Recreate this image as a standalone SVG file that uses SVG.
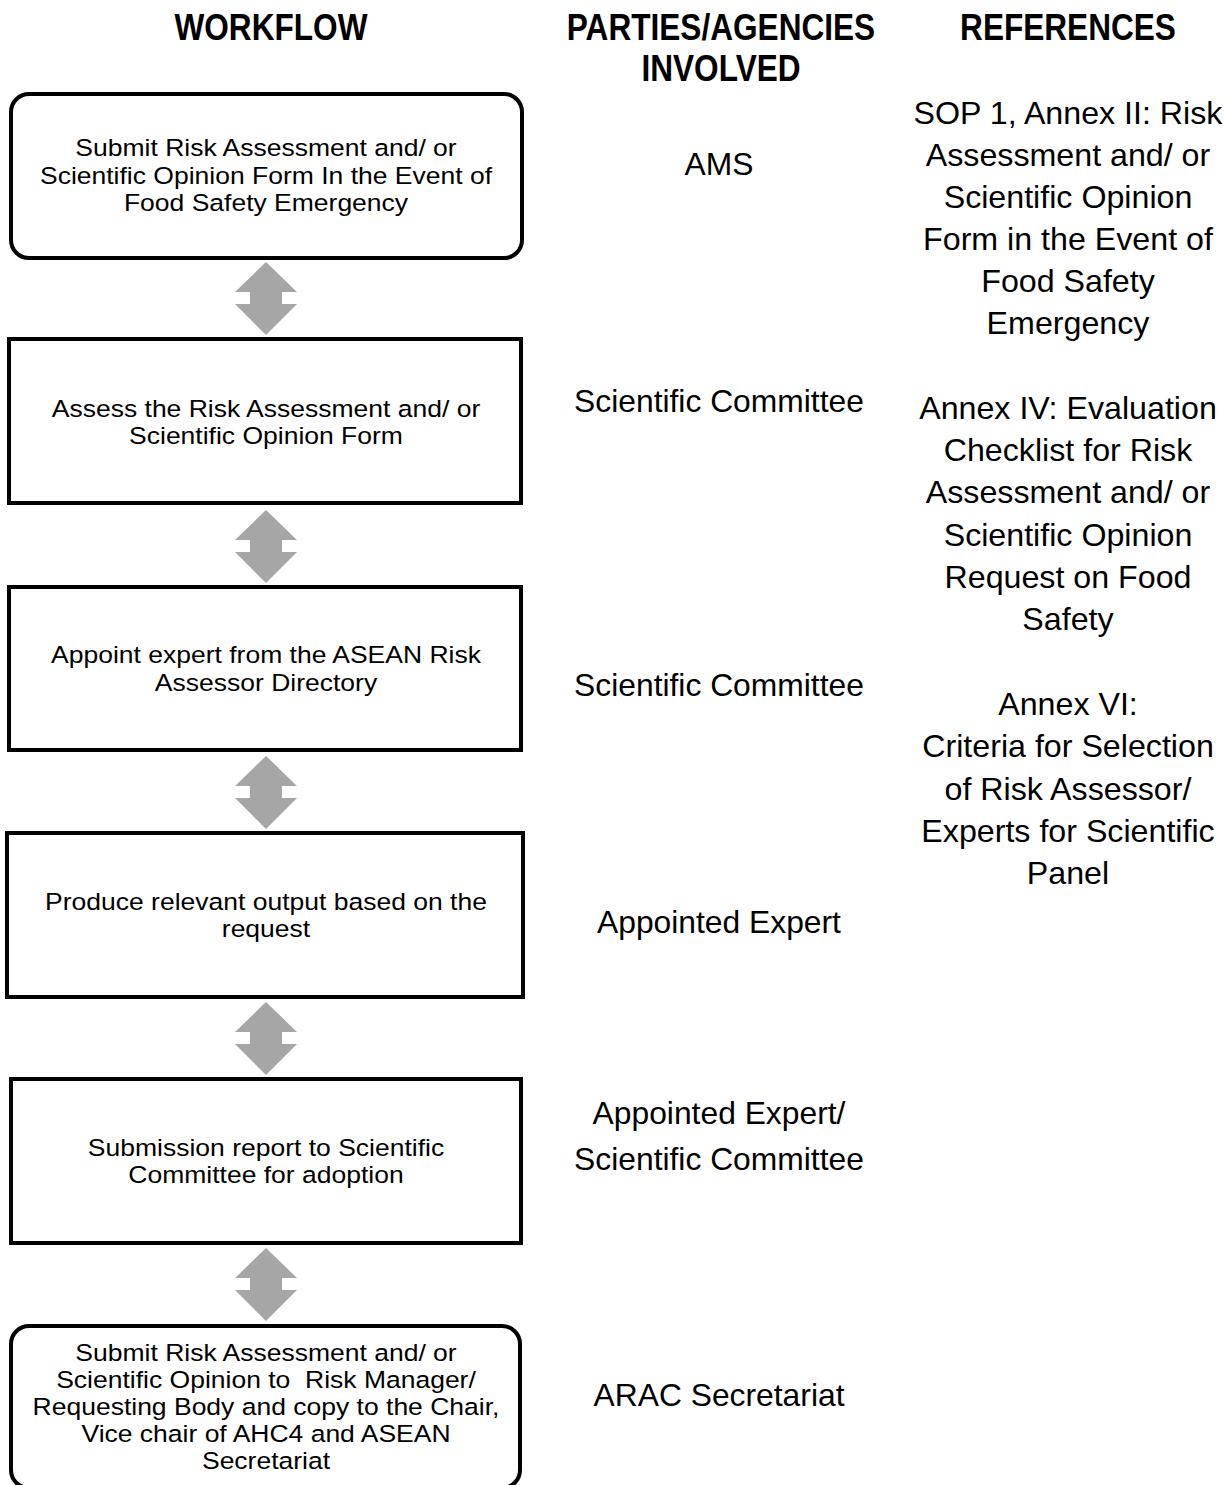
<svg xmlns="http://www.w3.org/2000/svg" width="1227" height="1485" viewBox="0 0 1227 1485">
<style>
.hdr{font-family:"Liberation Sans",Arial,sans-serif;font-weight:bold;font-size:37px;text-anchor:middle;fill:#000}
.box{fill:#fff;stroke:#000;stroke-width:4}
.bt{font-family:"Liberation Sans",Arial,sans-serif;font-size:23.5px;text-anchor:middle;fill:#000;white-space:pre}
.mt{font-family:"Liberation Sans",Arial,sans-serif;font-size:31.8px;text-anchor:middle;fill:#000}
.rt{font-family:"Liberation Sans",Arial,sans-serif;font-size:32.2px;text-anchor:middle;fill:#000}
.arr{fill:#a6a6a6}
</style>
<defs>
<path id="dbl" d="M0,0 L31,30 L16,30 L16,42 L31,42 L0,73 L-31,42 L-16,42 L-16,30 L-31,30 Z"/>
</defs>
<rect width="1227" height="1485" fill="#fff"/>
<g id="headers" transform="scale(0.854,1)">
<text class="hdr" x="317.3" y="40">WORKFLOW</text>
<text class="hdr" x="844.3" y="40">PARTIES/AGENCIES</text>
<text class="hdr" x="844.3" y="81">INVOLVED</text>
<text class="hdr" x="1250.6" y="40">REFERENCES</text>
</g>
<g id="connectors" class="arr">
<use href="#dbl" x="266" y="262"/>
<use href="#dbl" x="266" y="510"/>
<use href="#dbl" x="266" y="756"/>
<use href="#dbl" x="266" y="1002"/>
<use href="#dbl" x="266" y="1248"/>
</g>
<g id="step1">
<rect class="box" x="11" y="94" width="511" height="164" rx="18"/>
<g transform="translate(266 0) scale(1.128 1)">
<text class="bt" x="0" y="156">Submit Risk Assessment and/ or</text>
<text class="bt" x="0" y="184">Scientific Opinion Form In the Event of</text>
<text class="bt" x="0" y="211">Food Safety Emergency</text>
</g>
</g>
<g id="step2">
<rect class="box" x="9" y="339" width="512" height="164"/>
<g transform="translate(266 0) scale(1.128 1)">
<text class="bt" x="0" y="417">Assess the Risk Assessment and/ or</text>
<text class="bt" x="0" y="444">Scientific Opinion Form</text>
</g>
</g>
<g id="step3">
<rect class="box" x="9" y="587" width="512" height="163"/>
<g transform="translate(266 0) scale(1.128 1)">
<text class="bt" x="0" y="663">Appoint expert from the ASEAN Risk</text>
<text class="bt" x="0" y="691">Assessor Directory</text>
</g>
</g>
<g id="step4">
<rect class="box" x="7" y="833" width="516" height="164"/>
<g transform="translate(266 0) scale(1.128 1)">
<text class="bt" x="0" y="910">Produce relevant output based on the</text>
<text class="bt" x="0" y="937">request</text>
</g>
</g>
<g id="step5">
<rect class="box" x="11" y="1079" width="510" height="164"/>
<g transform="translate(266 0) scale(1.128 1)">
<text class="bt" x="0" y="1156">Submission report to Scientific</text>
<text class="bt" x="0" y="1183">Committee for adoption</text>
</g>
</g>
<g id="step6">
<rect class="box" x="11" y="1326" width="509" height="162" rx="18"/>
<g transform="translate(266 0) scale(1.128 1)">
<text class="bt" x="0" y="1361">Submit Risk Assessment and/ or</text>
<text class="bt" x="0" y="1388">Scientific Opinion to  Risk Manager/</text>
<text class="bt" x="0" y="1415">Requesting Body and copy to the Chair,</text>
<text class="bt" x="0" y="1442">Vice chair of AHC4 and ASEAN</text>
<text class="bt" x="0" y="1469">Secretariat</text>
</g>
</g>
<g id="parties">
<text class="mt" x="719" y="175">AMS</text>
<text class="mt" x="719" y="412">Scientific Committee</text>
<text class="mt" x="719" y="696">Scientific Committee</text>
<text class="mt" x="719" y="933">Appointed Expert</text>
<text class="mt" x="719" y="1124">Appointed Expert/</text>
<text class="mt" x="719" y="1170">Scientific Committee</text>
<text class="mt" x="719" y="1406">ARAC Secretariat</text>
</g>
<g id="references">
<text class="rt" x="1068" y="124">SOP 1, Annex II: Risk</text>
<text class="rt" x="1068" y="166">Assessment and/ or</text>
<text class="rt" x="1068" y="208">Scientific Opinion</text>
<text class="rt" x="1068" y="250">Form in the Event of</text>
<text class="rt" x="1068" y="292">Food Safety</text>
<text class="rt" x="1068" y="334">Emergency</text>
<text class="rt" x="1068" y="419">Annex IV: Evaluation</text>
<text class="rt" x="1068" y="461">Checklist for Risk</text>
<text class="rt" x="1068" y="503">Assessment and/ or</text>
<text class="rt" x="1068" y="546">Scientific Opinion</text>
<text class="rt" x="1068" y="588">Request on Food</text>
<text class="rt" x="1068" y="630">Safety</text>
<text class="rt" x="1068" y="715">Annex VI:</text>
<text class="rt" x="1068" y="757">Criteria for Selection</text>
<text class="rt" x="1068" y="800">of Risk Assessor/</text>
<text class="rt" x="1068" y="842">Experts for Scientific</text>
<text class="rt" x="1068" y="884">Panel</text>
</g>
</svg>
